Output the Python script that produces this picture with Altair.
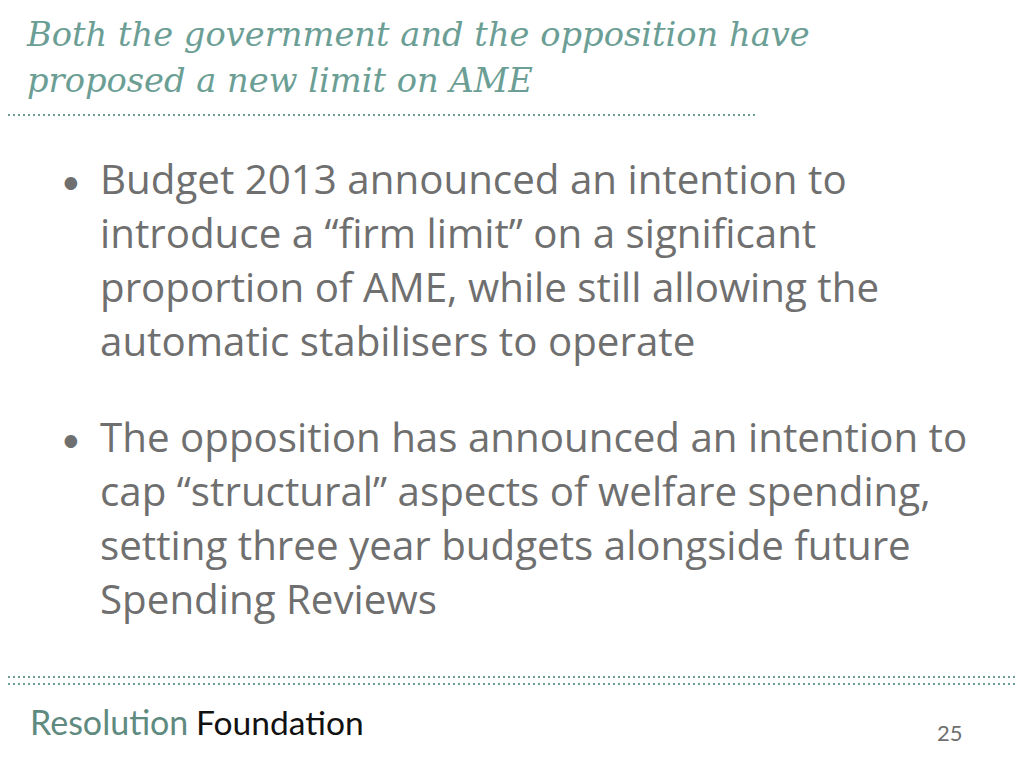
import altair as alt
import pandas as pd

# ---- content ----
title_lines = [
    "Both the government and the opposition have",
    "proposed a new limit on AME",
]
bullet1_lines = [
    "Budget 2013 announced an intention to",
    "introduce a \u201cfirm limit\u201d on a significant",
    "proportion of AME, while still allowing the",
    "automatic stabilisers to operate",
]
bullet2_lines = [
    "The opposition has announced an intention to",
    "cap \u201cstructural\u201d aspects of welfare spending,",
    "setting three year budgets alongside future",
    "Spending Reviews",
]
logo_parts = ["Resolution", "Foundation"]
page_number = ["25"]

TEAL = "#6b9e94"
GRAY = "#6f6f6f"
BODY_FONT = "Open Sans"
LOGO_FONT = "Lato"

xs = alt.Scale(domain=[0, 1024], range=[-8, 1016])
ys = alt.Scale(domain=[0, 768], range=[-8, 760])


def lines_df(lines):
    return pd.DataFrame({"text": lines, "i": list(range(len(lines)))})


def text_layer(lines, x0, y0, dy, size, color, font, style="normal", weight="normal", align="left"):
    return (
        alt.Chart(lines_df(lines))
        .transform_calculate(px=f"{x0}", py=f"{y0} + datum.i * {dy}")
        .mark_text(
            align=align, baseline="alphabetic", fontSize=size, color=color,
            font=font, fontStyle=style, fontWeight=weight,
        )
        .encode(
            x=alt.X("px:Q", scale=xs, axis=None),
            y=alt.Y("py:Q", scale=ys, axis=None),
            text="text:N",
        )
    )


title = text_layer(title_lines, 27, 46, 46, 33.7, TEAL, "DejaVu Serif", style="italic")
b1 = text_layer(bullet1_lines, 100, 194, 54, 40.3, GRAY, BODY_FONT)
b2 = text_layer(bullet2_lines, 100, 452, 54, 40.3, GRAY, BODY_FONT)
bullets = text_layer(["\u2022", "\u2022"], 61, 194, 258, 34, GRAY, LOGO_FONT)
logo1 = text_layer(logo_parts[:1], 30, 735, 0, 34, "#5f8a80", LOGO_FONT)
logo2 = text_layer(logo_parts[1:], 196, 735, 0, 33.6, "#111111", LOGO_FONT)
pnum = text_layer(page_number, 937, 741, 0, 22, GRAY, LOGO_FONT)

rule_title = alt.Chart(pd.DataFrame({"k": [0]})).mark_rule(
    color=TEAL, strokeWidth=2, strokeDash=[2, 3]
).encode(x=alt.value(-5), x2=alt.value(747), y=alt.value(107))
rule_b1 = alt.Chart(pd.DataFrame({"k": [0]})).mark_rule(
    color=TEAL, strokeWidth=2, strokeDash=[2, 3]
).encode(x=alt.value(-5), x2=alt.value(1012), y=alt.value(669))
rule_b2 = alt.Chart(pd.DataFrame({"k": [0]})).mark_rule(
    color=TEAL, strokeWidth=2, strokeDash=[2, 3]
).encode(x=alt.value(-5), x2=alt.value(1012), y=alt.value(676))

chart = (
    alt.layer(title, rule_title, bullets, b1, b2, rule_b1, rule_b2, logo1, logo2, pnum)
    .properties(width=1008, height=752, padding=0, autosize="none", background="white")
    .configure_view(stroke=None)
)

chart.save("out.html", embed_options={"renderer": "svg", "actions": False})
